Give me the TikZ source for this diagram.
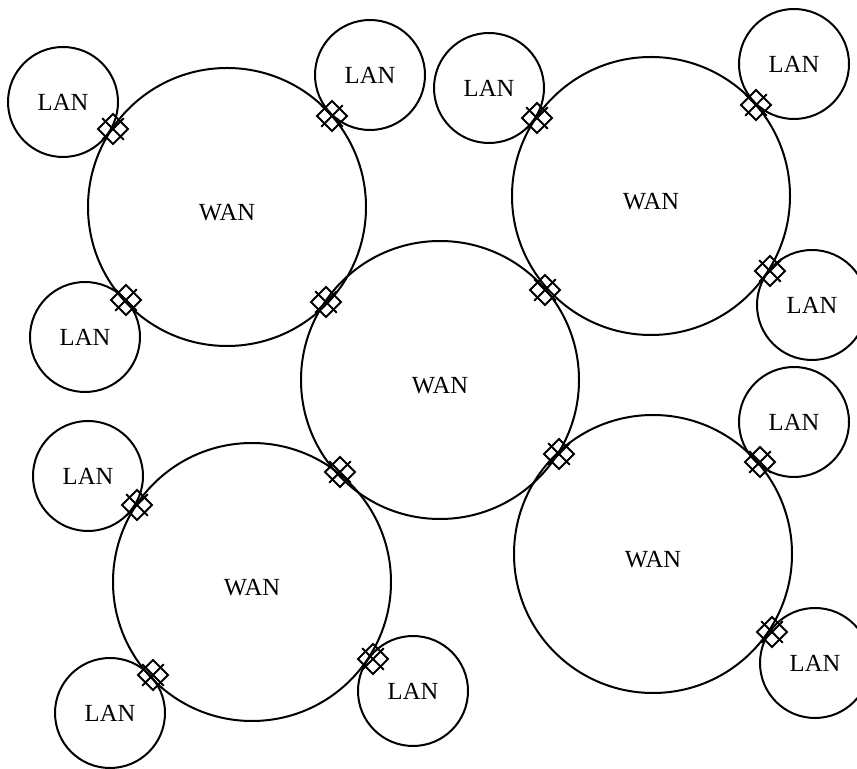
\documentclass[tikz,border=0pt]{standalone}
\usepackage{fontspec}
\setmainfont{Liberation Serif}
\usetikzlibrary{calc}

\tikzset{
  router/.pic={
    \draw[line width=0.9pt] (-15,0) -- (0,15) -- (15,0) -- (0,-15) -- cycle;
    \draw[line width=0.9pt] (-10.8,-10.8) -- (10.8,10.8);
    \draw[line width=0.9pt] (-10.8,10.8) -- (10.8,-10.8);
  }
}

\begin{document}
\begin{tikzpicture}[x=0.5pt, y=-0.5pt,
  netfont/.style={font=\fontsize{12.3}{14}\selectfont},
  net/.style={circle, draw, line width=1pt, inner sep=0pt, netfont},
  wan/.style={net, minimum size=139pt, label={[netfont, yshift=-3pt]center:WAN}},
  lan/.style={net, minimum size=55pt}]
\useasboundingbox (0,0) rectangle (857,769);
% backbone
\node[wan] (w1) at (227,207) {};
\node[wan] (w2) at (651,196) {};
\node[wan] (w0) at (440,380) {};
\node[wan] (w4) at (252,582) {};
\node[wan] (w5) at (653,554) {};
% local nets
\node[lan] (l1) at (63,102) {LAN};
\node[lan] (l2) at (370,75) {LAN};
\node[lan] (l3) at (85,337) {LAN};
\node[lan] (l4) at (489,88) {LAN};
\node[lan] (l5) at (794,64) {LAN};
\node[lan] (l6) at (812,305) {LAN};
\node[lan] (l7) at (794,422) {LAN};
\node[lan] (l8) at (815,663) {LAN};
\node[lan] (l9) at (88,476) {LAN};
\node[lan] (l10) at (110,713) {LAN};
\node[lan] (l11) at (413,691) {LAN};
% routers
\pic (r1) at (113,129) {router};
\pic (r2) at (332,116) {router};
\pic (r3) at (126,300) {router};
\pic (r4) at (326,302) {router};
\pic (r5) at (537,118) {router};
\pic (r6) at (756,105) {router};
\pic (r7) at (770,271) {router};
\pic (r8) at (545,290) {router};
\pic (r9) at (340,472) {router};
\pic (r10) at (559,454) {router};
\pic (r11) at (760,462) {router};
\pic (r12) at (772,632) {router};
\pic (r13) at (137,505) {router};
\pic (r14) at (153,675) {router};
\pic (r15) at (373,659) {router};
\end{tikzpicture}
\end{document}
